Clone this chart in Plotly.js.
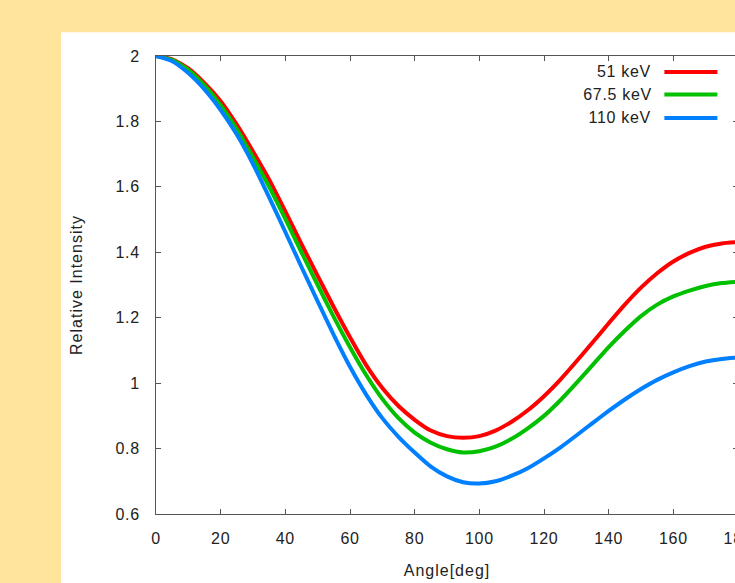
<!DOCTYPE html>
<html>
<head>
<meta charset="utf-8">
<script src="https://cdn.plot.ly/plotly-3.0.1.min.js"></script>
<style>
html, body { margin: 0; padding: 0; overflow: hidden; background: #ffe49b; }
#chart { width: 760px; height: 583px; }
#chart text { letter-spacing: 0.7px; }
#chart .g-xtitle text, #chart .g-ytitle text { letter-spacing: 1px; }
</style>
</head>
<body>
<div id="chart"></div>
<script>
// Data
const angles = [0,5,10,15,20,25,30,35,40,45,50,55,60,65,70,75,80,85,90,95,100,105,110,115,120,125,130,135,140,145,150,155,160,165,170,175,180];
const seriesNames = ["51 keV", "67.5 keV", "110 keV"];
const seriesColors = ["#ff0000", "#00c000", "#0080ff"];
const intensity51 = [2.000,1.990,1.962,1.917,1.862,1.790,1.708,1.622,1.525,1.425,1.328,1.232,1.140,1.055,0.985,0.930,0.888,0.855,0.838,0.833,0.838,0.855,0.882,0.917,0.960,1.010,1.066,1.124,1.183,1.240,1.292,1.336,1.372,1.398,1.417,1.427,1.431];
const intensity67 = [2.000,1.988,1.958,1.910,1.850,1.776,1.690,1.600,1.502,1.400,1.300,1.202,1.110,1.025,0.952,0.893,0.849,0.818,0.798,0.788,0.792,0.806,0.830,0.862,0.900,0.947,1.000,1.055,1.110,1.160,1.205,1.240,1.265,1.283,1.297,1.306,1.310];
const intensity110 = [2.000,1.984,1.948,1.898,1.835,1.760,1.670,1.568,1.462,1.355,1.250,1.147,1.050,0.965,0.893,0.836,0.788,0.745,0.715,0.697,0.693,0.700,0.717,0.740,0.770,0.803,0.840,0.878,0.915,0.950,0.982,1.010,1.033,1.052,1.066,1.074,1.078];
const xTicks = [0,20,40,60,80,100,120,140,160,180];
const yTicks = [0.6,0.8,1,1.2,1.4,1.6,1.8,2];
const xTitle = "Angle[deg]";
const yTitle = "Relative Intensity";

const allSeries = [intensity51, intensity67, intensity110];
const traces = allSeries.map((vals, i) => ({
  x: angles, y: vals, type: "scatter", mode: "lines", name: seriesNames[i],
  line: { color: seriesColors[i], width: 4, shape: "spline", smoothing: 0.6 },
  showlegend: false
}));

const font = { family: "Liberation Sans, Arial, sans-serif", size: 16, color: "#222" };

// manual legend (text left of line sample)
const legRowsY = [0.9651, 0.9158, 0.8648];
const annotations = seriesNames.map((n, i) => ({
  xref: "paper", yref: "paper", x: 0.851, y: legRowsY[i], xanchor: "right", yanchor: "middle",
  text: n, showarrow: false, font: font
}));
const shapes = [{
  type: "rect", xref: "paper", yref: "paper", x0: -0.1633, x1: 1.2, y0: -0.3, y1: 1.0517,
  fillcolor: "#ffffff", line: { width: 0 }, layer: "below"
}].concat(seriesColors.map((c, i) => ({
  type: "line", xref: "paper", yref: "paper", x0: 0.8735, x1: 0.9646, y0: legRowsY[i], y1: legRowsY[i],
  line: { color: c, width: 4 }
})));

const axisCommon = {
  showgrid: false, zeroline: false, showline: true, linecolor: "#555", linewidth: 1,
  ticks: "inside", ticklen: 5, tickcolor: "#555", tickwidth: 1, mirror: "ticks",
  tickfont: font
};

const layout = {
  width: 760, height: 583,
  margin: { l: 156, r: 22, t: 56, b: 69 },
  paper_bgcolor: "#ffe49b", plot_bgcolor: "#ffffff",
  font: font,
  xaxis: Object.assign({}, axisCommon, {
    range: [0, 180], tickvals: xTicks, ticktext: xTicks.map(String),
    ticklabelstandoff: 10,
    title: { text: xTitle, font: font, standoff: 18 }
  }),
  yaxis: Object.assign({}, axisCommon, {
    range: [0.6, 2], tickvals: yTicks, ticktext: yTicks.map(String),
    ticklabelstandoff: 12,
    title: { text: yTitle, font: font, standoff: 30 }
  }),
  annotations: annotations,
  shapes: shapes
};

Plotly.newPlot("chart", traces, layout, { displayModeBar: false, staticPlot: true });
</script>
</body>
</html>
